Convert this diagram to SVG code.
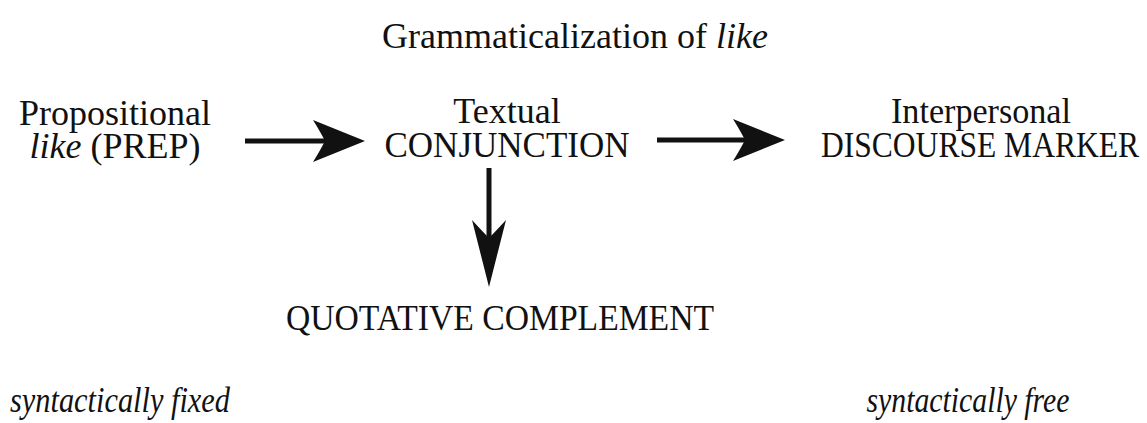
<svg xmlns="http://www.w3.org/2000/svg" width="1147" height="423" viewBox="0 0 1147 423">
<style>
text{font-family:"Liberation Serif","Times New Roman",serif;font-size:36px;fill:#111;text-anchor:middle}
.it{font-style:italic}
.conn{stroke:#111;stroke-width:5;fill:none}
.head{fill:#111;stroke:none}
</style>
<defs>
<path id="headH" class="head" d="M40,0 L-12,-21 Q-4,-8 0,0 Q-4,8 -12,21 Z"/>
<path id="headV" class="head" d="M49,0 L-18,-17 Q-6,-6 0,0 Q-6,6 -18,17 Z"/>
</defs>
<rect width="1147" height="423" fill="#fff"/>
<text id="title" x="575" y="48">Grammaticalization of <tspan class="it">like</tspan></text>
<g id="prep">
<text x="115" y="125">Propositional</text>
<text x="115" y="158"><tspan class="it">like</tspan> (PREP)</text>
</g>
<g id="conj">
<text x="507" y="123">Textual</text>
<text x="507" y="157" textLength="245" lengthAdjust="spacingAndGlyphs">CONJUNCTION</text>
</g>
<g id="dm">
<text x="981" y="123" textLength="180" lengthAdjust="spacingAndGlyphs">Interpersonal</text>
<text x="980" y="157" textLength="318" lengthAdjust="spacingAndGlyphs">DISCOURSE MARKER</text>
</g>
<g id="quot">
<text x="500" y="330" textLength="428" lengthAdjust="spacingAndGlyphs">QUOTATIVE COMPLEMENT</text>
</g>
<g id="fixed"><text class="it" x="120" y="412" textLength="220" lengthAdjust="spacingAndGlyphs">syntactically fixed</text></g>
<g id="free"><text class="it" x="968" y="412" textLength="203" lengthAdjust="spacingAndGlyphs">syntactically free</text></g>
<g id="connectors">
<path class="conn" d="M245,141 H326"/>
<use href="#headH" x="325" y="141"/>
<path class="conn" d="M657,140 H746"/>
<use href="#headH" x="745" y="140"/>
<path class="conn" d="M489,168 V239"/>
<use href="#headV" transform="translate(489,238) rotate(90)"/>
</g>
</svg>
